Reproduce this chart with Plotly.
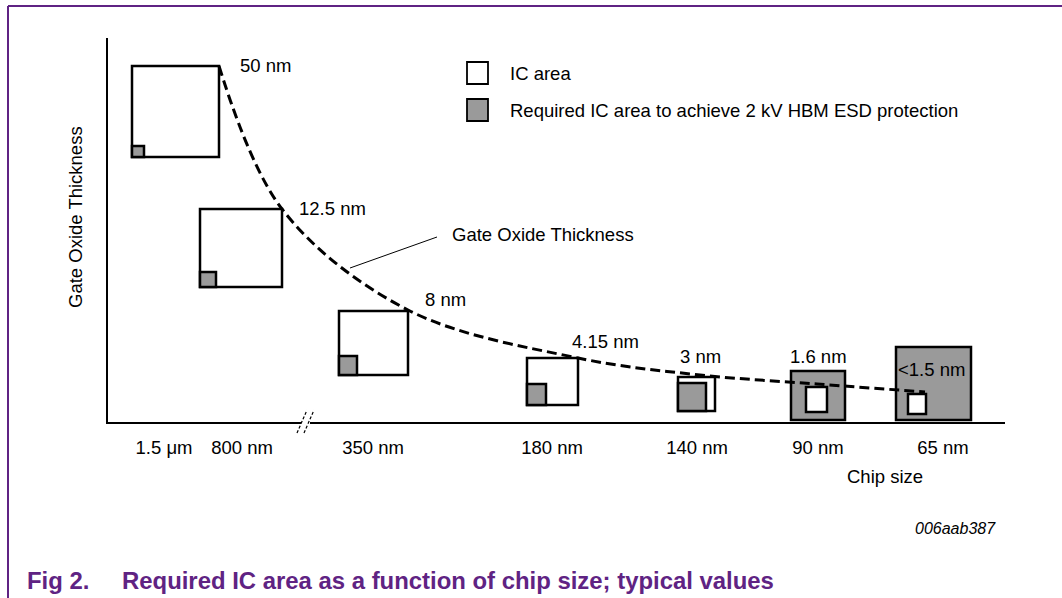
import plotly.graph_objects as go

W, H = 1062, 598

# ---------------- data (schematic units) ----------------
chip_labels = ["1.5 μm", "800 nm", "350 nm", "180 nm", "140 nm", "90 nm", "65 nm"]
chip_pos = [56, 134, 265, 444, 589, 710, 835]

oxide_labels = ["50 nm", "12.5 nm", "8 nm", "4.15 nm", "3 nm", "1.6 nm", "<1.5 nm"]
curve_x = [111, 174, 300, 470, 592, 709, 817]
curve_y = [356, 213, 112, 64, 47, 38, 30]

box_left = [24, 92, 231, 419, 570, 683, 788]
box_bottom = [265, 135, 47, 17, 11, 2, 2]
ic_w = [87, 82, 69, 51, 37, 21, 18]
ic_h = [91, 78, 64, 47, 34, 25, 20]
esd_w = [12, 16, 18, 19, 28, 54, 75]
esd_h = [11, 15, 19, 21, 28, 49, 73]
inner_dx = [0, 0, 0, 0, 0, 15, 12]
inner_dy = [0, 0, 0, 0, 0, 8, 6]

# ---------------- styles ----------------
FONT = "Liberation Sans, Arial, sans-serif"
PURPLE = "#5f2383"
GREY = "#9a9a9a"
FS = 18.5
FS_LEG = 18.5
LW = 2.5

fig = go.Figure()

fig.add_trace(go.Scatter(
    x=curve_x, y=curve_y, mode="lines",
    line=dict(color="black", width=3, dash="10px,5px", shape="spline", smoothing=1.0),
    hoverinfo="skip", showlegend=False,
))

shapes = []

def rect(x0, y0, w, h, fill):
    shapes.append(dict(type="rect", xref="x", yref="y", x0=x0, y0=y0, x1=x0 + w, y1=y0 + h,
                       fillcolor=fill, line=dict(color="black", width=LW), layer="below"))

for i in range(len(chip_labels)):
    L, B = box_left[i], box_bottom[i]
    if ic_w[i] >= esd_w[i]:
        rect(L, B, ic_w[i], ic_h[i], "white")
        rect(L, B, esd_w[i], esd_h[i], GREY)
    else:
        rect(L, B, esd_w[i], esd_h[i], GREY)
        rect(L + inner_dx[i], B + inner_dy[i], ic_w[i], ic_h[i], "white")

def px(x):
    return x / W

def py(y):
    return 1 - y / H

# purple frame
shapes.append(dict(type="line", xref="paper", yref="paper", x0=px(8), x1=1, y0=py(6), y1=py(6),
                   line=dict(color=PURPLE, width=2)))
shapes.append(dict(type="line", xref="paper", yref="paper", x0=px(8), x1=px(8), y0=py(6), y1=0,
                   line=dict(color=PURPLE, width=2)))

# axis break
shapes.append(dict(type="rect", xref="paper", yref="paper", x0=px(301), x1=px(310), y0=py(420), y1=py(424),
                   fillcolor="white", line=dict(width=0), layer="above"))
for a, b in [((297, 433), (307, 410)), ((304, 433), (314, 410))]:
    shapes.append(dict(type="line", xref="paper", yref="paper", x0=px(a[0]), y0=py(a[1]),
                       x1=px(b[0]), y1=py(b[1]), line=dict(color="black", width=1.2, dash="3px,2px")))

# legend squares
shapes.append(dict(type="rect", xref="paper", yref="paper", x0=px(467), x1=px(488), y0=py(84), y1=py(62),
                   fillcolor="white", line=dict(color="black", width=1.8)))
shapes.append(dict(type="rect", xref="paper", yref="paper", x0=px(467), x1=px(488), y0=py(121), y1=py(99),
                   fillcolor=GREY, line=dict(color="black", width=1.8)))

# leader line for curve label
shapes.append(dict(type="line", xref="x", yref="y", x0=242, y0=154, x1=329, y1=185,
                   line=dict(color="black", width=1)))

ann = []
label_cfg = [("left", 19, 0), ("left", 15, 0), ("left", 15, 11), ("left", -8, 17),
             ("center", 0, 19), ("center", 1, 28), ("center", 6, 23)]
for i, t in enumerate(oxide_labels):
    xa, dx, dy = label_cfg[i]
    ann.append(dict(x=curve_x[i], y=curve_y[i], xref="x", yref="y", text=t, showarrow=False,
                    xanchor=xa, yanchor="middle", xshift=dx, yshift=dy,
                    font=dict(family=FONT, size=FS, color="black")))

ann.append(dict(x=342, y=187, xref="x", yref="y", text="Gate Oxide Thickness", showarrow=False,
                xanchor="left", yanchor="middle", font=dict(family=FONT, size=FS, color="black")))

ann.append(dict(x=px(508), y=py(73), xref="paper", yref="paper", text="IC area", showarrow=False,
                xanchor="left", yanchor="middle", font=dict(family=FONT, size=FS_LEG, color="black")))
ann.append(dict(x=px(508), y=py(110), xref="paper", yref="paper",
                text="Required IC area to achieve 2 kV HBM ESD protection", showarrow=False,
                xanchor="left", yanchor="middle", font=dict(family=FONT, size=FS_LEG, color="black")))

ann.append(dict(x=px(75), y=py(217), xref="paper", yref="paper", text="Gate Oxide Thickness",
                textangle=-90, showarrow=False, xanchor="center", yanchor="middle",
                font=dict(family=FONT, size=FS, color="black")))
ann.append(dict(x=px(885), y=py(476), xref="paper", yref="paper", text="Chip size", showarrow=False,
                xanchor="center", yanchor="middle", font=dict(family=FONT, size=FS, color="black")))
ann.append(dict(x=px(998), y=py(528), xref="paper", yref="paper", text="<i>006aab387</i>",
                showarrow=False, xanchor="right", yanchor="middle",
                font=dict(family=FONT, size=16, color="black")))
ann.append(dict(x=px(25), y=py(580), xref="paper", yref="paper", text="<b>Fig 2.</b>", showarrow=False,
                xanchor="left", yanchor="middle", font=dict(family=FONT, size=23.9, color=PURPLE)))
ann.append(dict(x=px(120), y=py(580), xref="paper", yref="paper",
                text="<b>Required IC area as a function of chip size; typical values</b>", showarrow=False,
                xanchor="left", yanchor="middle", font=dict(family=FONT, size=23.9, color=PURPLE)))

fig.update_layout(
    width=W, height=H, margin=dict(l=0, r=0, t=0, b=0),
    paper_bgcolor="white", plot_bgcolor="white",
    showlegend=False, hovermode=False,
    shapes=shapes, annotations=ann,
    xaxis=dict(domain=[108 / W, 1005 / W], range=[0, 897], showgrid=False, zeroline=False,
               showline=True, linecolor="black", linewidth=2,
               tickmode="array", tickvals=chip_pos, ticktext=chip_labels, ticks="",
               ticklabelstandoff=8, tickfont=dict(family=FONT, size=FS, color="black"), fixedrange=True),
    yaxis=dict(domain=[(H - 422) / H, (H - 38) / H], range=[0, 384], showgrid=False, zeroline=False,
               showline=True, linecolor="black", linewidth=2, showticklabels=False, ticks="",
               fixedrange=True),
)

fig.write_html("out.html", config={"displayModeBar": False},
               post_script="document.body.style.margin='0';document.body.style.overflow='hidden';")
